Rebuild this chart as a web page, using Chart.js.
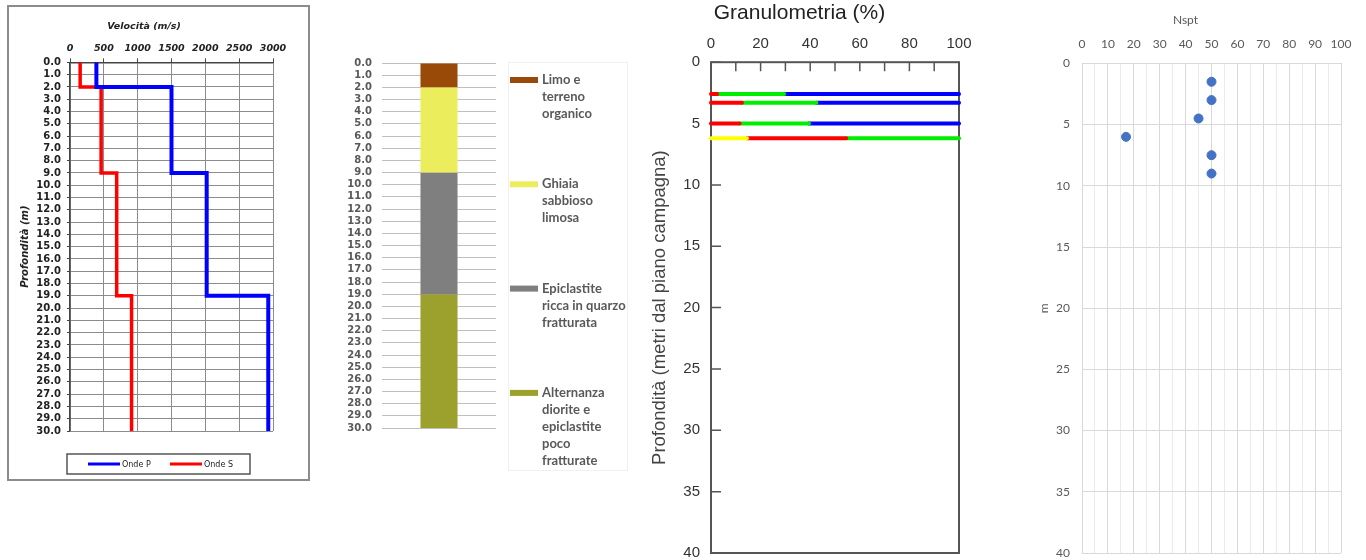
<!DOCTYPE html>
<html>
<head>
<meta charset="utf-8">
<script src="https://cdn.jsdelivr.net/npm/chart.js@4.4.1/dist/chart.umd.min.js"></script>
<style>
  html, body { margin: 0; padding: 0; background: #fff; }
  body { width: 1366px; height: 560px; position: relative; overflow: hidden; }
  .panel { position: absolute; }
  #p1 { left: 7px; top: 5px; border: 2px solid #8c8c8c; }
  canvas { display: block; }
</style>
</head>
<body>
<div class="panel" id="p1"><canvas id="velChart" width="299" height="472"></canvas></div>
<div class="panel" style="left:330px;top:40px"><canvas id="stratChart" width="310" height="440"></canvas></div>
<div class="panel" style="left:640px;top:0"><canvas id="granChart" width="340" height="560"></canvas></div>
<div class="panel" style="left:1030px;top:0"><canvas id="nsptChart" width="336" height="560"></canvas></div>
<script>
// velocità onde P / S per strato
var layerTop = [0, 2, 9, 19];
var layerBottom = [2, 9, 19, 30];
var vpValues = [390, 1500, 2020, 2930];
var vsValues = [150, 460, 690, 910];

// stratigrafia
var soilNames = [
  ['Limo e', 'terreno', 'organico'],
  ['Ghiaia', 'sabbioso', 'limosa'],
  ['Epiclastite', 'ricca in quarzo', 'fratturata'],
  ['Alternanza', 'diorite e', 'epiclastite', 'poco', 'fratturate']
];
var soilTop = [0, 2, 9, 19];
var soilBottom = [2, 9, 19, 30];
var soilColors = ['#9a4a08', '#ebed5c', '#7f7f7f', '#9ca02c'];

// granulometria (%), una riga per campione
var granDepths = [2.6, 3.3, 5.0, 6.2];
var granYellow = [0, 0, 0, 14.5];
var granRed = [2.5, 12.5, 11.5, 40];
var granGreen = [27, 30, 28, 45.5];
var granBlue = [70.5, 57.5, 60.5, 0];
var granColors = ['#ffff00', '#ff0000', '#00ee00', '#0000ff'];

// prove SPT
var nsptDepths = [1.5, 3, 4.5, 6, 7.5, 9];
var nsptValues = [50, 50, 45, 17, 50, 50];

function stepPoints(values) {
  var pts = [];
  values.forEach(function (v, i) {
    pts.push({ x: v, y: layerTop[i] });
    pts.push({ x: v, y: layerBottom[i] });
  });
  return pts;
}

// fixed axis sizes so the plot areas land where the original ones are
function fixY(w) {
  return function (s) { s.width = w; s.paddingTop = 0; s.paddingBottom = 0; };
}
function fixX(h) {
  return function (s) { s.height = h; s.paddingLeft = 0; s.paddingRight = 0; };
}

var boldIt = { family: 'DejaVu Sans', size: 9.5, weight: 'bold', style: 'italic' };

var boxLegend = {
  id: 'boxLegend',
  afterDraw: function (chart) {
    var ctx = chart.ctx, a = chart.chartArea;
    var w = 183, h = 20, x0 = Math.round(chart.width / 2 - w / 2), y0 = a.bottom + 23;
    ctx.save();
    ctx.strokeStyle = '#555';
    ctx.lineWidth = 1.5;
    ctx.strokeRect(x0, y0, w, h);
    ctx.font = '8px "DejaVu Sans"';
    ctx.fillStyle = '#222';
    ctx.textBaseline = 'middle';
    chart.data.datasets.forEach(function (ds, i) {
      var sx = x0 + 21 + i * 82;
      ctx.strokeStyle = ds.borderColor;
      ctx.lineWidth = 3;
      ctx.beginPath();
      ctx.moveTo(sx, y0 + h / 2);
      ctx.lineTo(sx + 32, y0 + h / 2);
      ctx.stroke();
      ctx.fillText(ds.label, sx + 34, y0 + h / 2 + 0.5);
    });
    ctx.restore();
  }
};

new Chart(document.getElementById('velChart'), {
  type: 'scatter',
  data: {
    datasets: [
      { label: 'Onde P', data: stepPoints(vpValues), showLine: true, borderColor: '#0000ff', borderWidth: 4, pointRadius: 0, clip: false },
      { label: 'Onde S', data: stepPoints(vsValues), showLine: true, borderColor: '#ff0000', borderWidth: 3.5, pointRadius: 0, clip: false }
    ]
  },
  options: {
    responsive: false,
    animation: false,
    layout: { padding: { left: 6, right: 35, top: 0, bottom: 48 } },
    plugins: {
      legend: { display: false },
      tooltip: { enabled: false },
      title: { display: true, text: 'Velocità (m/s)', color: '#222', font: boldIt, padding: { top: 14, bottom: 4 } }
    },
    scales: {
      x: {
        type: 'linear', position: 'top', min: 0, max: 3000,
        afterFit: fixX(26),
        ticks: {
          stepSize: 500, padding: 4, color: '#222', font: boldIt, maxRotation: 0,
          callback: function (v) { return String(v); }
        },
        grid: { color: '#8c8c8c', tickLength: 4, tickColor: '#444' },
        border: { color: '#444', width: 1.5 }
      },
      y: {
        type: 'linear', reverse: true, min: 0, max: 30,
        afterFit: fixY(55),
        ticks: {
          stepSize: 1, autoSkip: false, padding: 6, color: '#222',
          font: { family: 'DejaVu Sans', size: 10, weight: 'bold' },
          callback: function (v) { return v.toFixed(1); }
        },
        grid: { color: '#8c8c8c', tickLength: 3, tickColor: '#444' },
        border: { color: '#444', width: 1.5 },
        title: { display: true, text: 'Profondità (m)', color: '#222', font: { family: 'DejaVu Sans', size: 10, weight: 'bold', style: 'italic' }, padding: { top: 4, bottom: 0 } }
      }
    }
  },
  plugins: [boxLegend]
});

var stratLegend = {
  id: 'stratLegend',
  afterDraw: function (chart) {
    var ctx = chart.ctx, a = chart.chartArea;
    ctx.save();
    ctx.strokeStyle = '#f0f0f0';
    ctx.lineWidth = 1;
    ctx.strokeRect(a.right + 12.5, a.top - 0.5, 119, 408);
    ctx.font = 'bold 13px Lato';
    ctx.textBaseline = 'middle';
    chart.data.datasets.forEach(function (ds, i) {
      var y = a.top + 17 + i * 104.3;
      ctx.fillStyle = ds.backgroundColor;
      ctx.fillRect(a.right + 14, y - 3, 28, 6);
      ctx.fillStyle = '#595959';
      soilNames[i].forEach(function (t, j) { ctx.fillText(t, a.right + 46, y + j * 17); });
    });
    ctx.restore();
  }
};

new Chart(document.getElementById('stratChart'), {
  type: 'bar',
  data: {
    labels: [''],
    datasets: soilNames.map(function (n, i) {
      return {
        label: n.join(' '),
        data: [[soilTop[i], soilBottom[i]]],
        backgroundColor: soilColors[i],
        grouped: false,
        barPercentage: 0.325,
        categoryPercentage: 1
      };
    })
  },
  options: {
    responsive: false,
    animation: false,
    layout: { padding: { left: 0, right: 144, top: 23, bottom: 52 } },
    plugins: { legend: { display: false }, tooltip: { enabled: false } },
    scales: {
      x: { display: false },
      y: {
        type: 'linear', reverse: true, min: 0, max: 30,
        afterFit: fixY(52),
        ticks: {
          stepSize: 1, autoSkip: false, padding: 10, color: '#595959',
          font: { family: 'DejaVu Sans', size: 10, weight: 'bold' },
          callback: function (v) { return v.toFixed(1); }
        },
        grid: { color: '#bfbfbf', drawTicks: false },
        border: { display: false }
      }
    }
  },
  plugins: [stratLegend]
});

var granSeries = [granYellow, granRed, granGreen, granBlue];
var granSets = [];
granDepths.forEach(function (d, r) {
  var start = 0;
  granSeries.forEach(function (s, k) {
    var v = s[r];
    if (v > 0) {
      granSets.push({
        data: [{ x: start, y: d }, { x: start + v, y: d }],
        showLine: true, borderColor: granColors[k], borderWidth: 4,
        borderCapStyle: 'round', pointRadius: 0, clip: false
      });
    }
    start += v;
  });
});

var frameTicks = {
  id: 'frameTicks',
  beforeDatasetsDraw: function (chart) {
    var ctx = chart.ctx, a = chart.chartArea, xs = chart.scales.x, ys = chart.scales.y;
    ctx.save();
    ctx.strokeStyle = '#555';
    ctx.lineWidth = 2;
    ctx.strokeRect(a.left, a.top, a.width, a.height);
    ctx.lineWidth = 1.5;
    ctx.beginPath();
    xs.ticks.forEach(function (t) {
      var px = xs.getPixelForValue(t.value);
      ctx.moveTo(px, a.top);
      ctx.lineTo(px, a.top + 9);
    });
    ys.ticks.forEach(function (t) {
      var py = ys.getPixelForValue(t.value);
      ctx.moveTo(a.left, py);
      ctx.lineTo(a.left + 10, py);
    });
    ctx.stroke();
    ctx.restore();
  }
};

var arial15 = { family: 'Liberation Sans', size: 15 };

new Chart(document.getElementById('granChart'), {
  type: 'scatter',
  data: { datasets: granSets },
  options: {
    responsive: false,
    animation: false,
    layout: { padding: { left: 0, right: 21, top: 0, bottom: 7 } },
    plugins: {
      legend: { display: false },
      tooltip: { enabled: false },
      title: { display: true, text: 'Granulometria (%)', color: '#222', font: { family: 'Liberation Sans', size: 21, weight: 'normal' }, padding: { top: 1, bottom: 6 } }
    },
    scales: {
      x: {
        type: 'linear', position: 'top', min: 0, max: 100,
        afterFit: fixX(30),
        ticks: {
          stepSize: 10, autoSkip: false, maxRotation: 0, padding: 9, color: '#333', font: arial15,
          callback: function (v) { return v % 20 === 0 ? v : ''; }
        },
        grid: { display: false, drawTicks: false },
        border: { display: false }
      },
      y: {
        type: 'linear', reverse: true, min: 0, max: 40,
        afterFit: fixY(71),
        ticks: { stepSize: 5, padding: 11, color: '#333', font: arial15 },
        grid: { display: false, drawTicks: false },
        border: { display: false },
        title: { display: true, text: 'Profondità (metri dal piano campagna)', color: '#444', font: { family: 'Liberation Sans', size: 18.5 }, padding: { top: 9, bottom: 0 } }
      }
    }
  },
  plugins: [frameTicks]
});

var calibri12 = { family: 'Lato', size: 12 };

new Chart(document.getElementById('nsptChart'), {
  type: 'scatter',
  data: {
    datasets: [{
      label: 'Nspt',
      data: nsptValues.map(function (v, i) { return { x: v, y: nsptDepths[i] }; }),
      backgroundColor: '#4472c4', borderColor: '#4472c4', pointRadius: 4.5
    }]
  },
  options: {
    responsive: false,
    animation: false,
    layout: { padding: { left: 0, right: 25, top: 0, bottom: 7 } },
    plugins: {
      legend: { display: false },
      tooltip: { enabled: false },
      title: { display: true, text: 'Nspt', color: '#595959', font: { family: 'Lato', size: 12, weight: 'normal' }, padding: { top: 13, bottom: 4 } }
    },
    scales: {
      x: {
        type: 'linear', position: 'top', min: 0, max: 100,
        afterFit: fixX(32),
        ticks: {
          stepSize: 5, autoSkip: false, maxRotation: 0, padding: 12, color: '#595959', font: calibri12,
          callback: function (v) { return v % 10 === 0 ? v : ''; }
        },
        grid: {
          drawTicks: false,
          color: function (c) { return c.tick && c.tick.value % 10 === 0 ? '#d9d9d9' : '#ebebeb'; }
        },
        border: { display: false }
      },
      y: {
        type: 'linear', reverse: true, min: 0, max: 40,
        afterFit: fixY(52),
        ticks: { stepSize: 5, padding: 12, color: '#595959', font: calibri12 },
        grid: { color: '#d9d9d9', drawTicks: false },
        border: { display: false },
        title: { display: true, text: 'm', color: '#595959', font: calibri12, padding: { top: 7, bottom: 0 } }
      }
    }
  }
});
</script>
</body>
</html>
